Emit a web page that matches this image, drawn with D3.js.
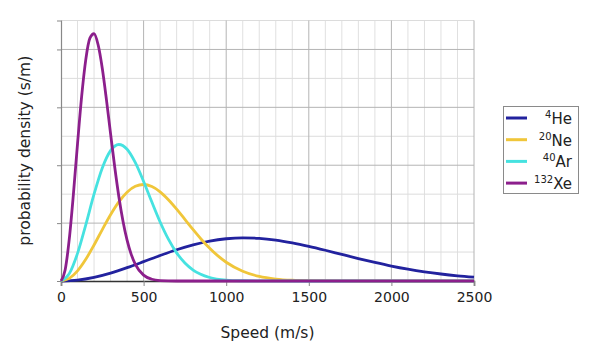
<!DOCTYPE html>
<html>
<head>
<meta charset="utf-8">
<script src="https://cdn.jsdelivr.net/npm/d3@7"></script>
<style>
  html, body { margin: 0; padding: 0; background: #fff; }
  svg { display: block; font-family: "DejaVu Sans", Verdana, sans-serif; }
</style>
</head>
<body>
<svg id="chart" width="611" height="346"></svg>
<script>
// ---- data (density in units of 10^-3 s/m) ----
const xTicks = [0, 500, 1000, 1500, 2000, 2500];
const yMajor = [1, 2, 3, 4];

const heSpeed = [0,100,200,300,400,500,600,700,800,900,1000,1100,1200,1300,1400,1500,1600,1700,1800,1900,2000,2100,2200,2300,2400,2500];
const heDensity = [0,0.0162,0.0634,0.137,0.230,0.334,0.441,0.540,0.625,0.690,0.730,0.746,0.737,0.707,0.659,0.599,0.531,0.459,0.388,0.321,0.259,0.205,0.159,0.121,0.090,0.066];

const neSpeed = [0,50,100,150,200,250,300,350,400,450,500,550,600,650,700,750,800,850,900,950,1000,1100,1200,1300,1400,1500,1700,2000,2500];
const neDensity = [0,0.045,0.176,0.375,0.622,0.888,1.144,1.366,1.534,1.636,1.667,1.632,1.541,1.405,1.242,1.064,0.886,0.717,0.565,0.433,0.324,0.168,0.079,0.034,0.013,0.005,0.0005,0,0];

const arSpeed = [0,50,100,150,200,250,300,350,400,450,500,550,600,650,700,750,800,900,1000,1100,1200,1500,2000,2500];
const arDensity = [0,0.127,0.477,0.971,1.499,1.953,2.252,2.358,2.276,2.044,1.720,1.363,1.019,0.722,0.486,0.311,0.189,0.061,0.016,0.004,0.0006,0,0,0];

const xeSpeed = [0,25,50,75,100,125,150,175,200,225,250,275,300,325,350,375,400,425,450,500,550,600,700,800,1000,1500,2000,2500];
const xeDensity = [0,0.190,0.723,1.497,2.370,3.189,3.825,4.195,4.271,4.076,3.671,3.134,2.546,1.973,1.461,1.036,0.705,0.460,0.288,0.101,0.030,0.008,0.0003,0,0,0,0,0];

const seriesNames = ["He", "Ne", "Ar", "Xe"];
const seriesMass = ["4", "20", "40", "132"];
const seriesColors = ["#22229e", "#f0c63a", "#46e2e0", "#8c1f8c"];

// ---- layout ----
const svg = d3.select("#chart");
const L = 61, R = 474, T = 20.5, B = 281;

const x = d3.scaleLinear().domain([0, 2500]).range([L, R]);
const y = d3.scaleLinear().domain([0, 4.5]).range([B, T]);

// grid
const grid = svg.append("g");
grid.selectAll("line.vmin").data(d3.range(100, 2500, 100).filter(v => v % 500 !== 0))
  .join("line").attr("x1", d => x(d)).attr("x2", d => x(d)).attr("y1", T).attr("y2", B)
  .attr("stroke", "#e0e0e0").attr("stroke-width", 1);
grid.selectAll("line.hmin").data([0.5, 1.5, 2.5, 3.5, 4.5])
  .join("line").attr("x1", L).attr("x2", R).attr("y1", d => y(d)).attr("y2", d => y(d))
  .attr("stroke", "#dcdcdc").attr("stroke-width", 1);
grid.selectAll("line.vmaj").data(xTicks.slice(1))
  .join("line").attr("x1", d => x(d)).attr("x2", d => x(d)).attr("y1", T).attr("y2", B)
  .attr("stroke", "#b4b4b4").attr("stroke-width", 1);
grid.selectAll("line.hmaj").data(yMajor)
  .join("line").attr("x1", L).attr("x2", R).attr("y1", d => y(d)).attr("y2", d => y(d))
  .attr("stroke", "#b4b4b4").attr("stroke-width", 1);

// axes
const xAxis = svg.append("g").attr("transform", `translate(0,${B})`)
  .call(d3.axisBottom(x).tickValues(xTicks).tickSize(5).tickPadding(6).tickFormat(d3.format("d")));
xAxis.select(".domain").attr("stroke", "#333").attr("stroke-width", 1.5);
xAxis.selectAll(".tick line").attr("stroke", "#888");
xAxis.selectAll("text").attr("font-size", 14).attr("fill", "#222")
  .attr("font-family", "DejaVu Sans, Verdana, sans-serif");

const yAxis = svg.append("g").attr("transform", `translate(${L},0)`)
  .call(d3.axisLeft(y).tickValues(yMajor).tickSize(4).tickFormat(""));
yAxis.select(".domain").attr("stroke", "#888").attr("stroke-width", 1.2);
yAxis.selectAll(".tick line").attr("stroke", "#888");

// titles
svg.append("text").attr("x", (L + R) / 2).attr("y", 338).attr("text-anchor", "middle")
  .attr("font-size", 15.5).attr("fill", "#222").text("Speed (m/s)");
svg.append("text").attr("transform", `translate(30,${(T + B) / 2}) rotate(-90)`)
  .attr("text-anchor", "middle").attr("font-size", 15.5).attr("fill", "#222")
  .text("probability density (s/m)");

// curves
const line = d3.line().x(d => x(d[0])).y(d => y(d[1])).curve(d3.curveMonotoneX);
const speeds = [heSpeed, neSpeed, arSpeed, xeSpeed];
const dens = [heDensity, neDensity, arDensity, xeDensity];
const plot = svg.append("g");
seriesNames.forEach((n, i) => {
  plot.append("path").datum(d3.zip(speeds[i], dens[i]))
    .attr("d", line).attr("fill", "none").attr("stroke", seriesColors[i])
    .attr("stroke-width", 2.8).attr("stroke-linejoin", "round");
});

// legend
const lg = svg.append("g");
lg.append("rect").attr("x", 503.5).attr("y", 106.5).attr("width", 75).attr("height", 87)
  .attr("fill", "#fff").attr("stroke", "#8a8a8a").attr("stroke-width", 1);
seriesNames.forEach((n, i) => {
  const yy = 118 + i * 21.7;
  lg.append("line").attr("x1", 506).attr("x2", 527).attr("y1", yy).attr("y2", yy)
    .attr("stroke", seriesColors[i]).attr("stroke-width", 3);
  const t = lg.append("text").attr("x", 572).attr("y", yy + 6).attr("text-anchor", "end")
    .attr("font-size", 15).attr("fill", "#222");
  t.append("tspan").attr("font-size", 10).attr("dy", -6).text(seriesMass[i]);
  t.append("tspan").attr("dy", 6).text(n);
});
</script>
</body>
</html>
